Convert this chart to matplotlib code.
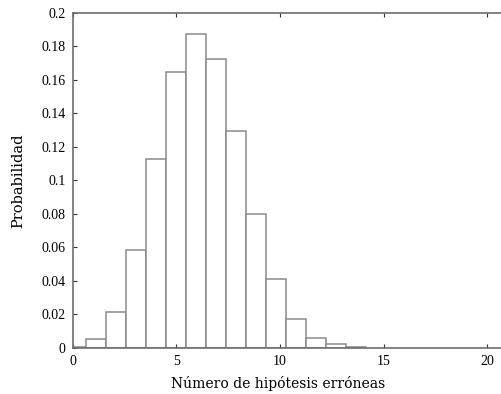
import numpy as np
import matplotlib.pyplot as plt

# histogram: left bin edges and heights
bin_left = [-0.32, 0.64, 1.61, 2.57, 3.54, 4.50, 5.47, 6.43, 7.40, 8.36,
            9.33, 10.29, 11.26, 12.22, 13.19]
prob = [0.0008, 0.0052, 0.0212, 0.0585, 0.1127, 0.1645, 0.1873, 0.1723,
        0.1296, 0.0800, 0.0410, 0.0173, 0.0060, 0.0022, 0.0006]
bin_width = 0.965

xticks = [0, 5, 10, 15, 20]
yticks = [0, 0.02, 0.04, 0.06, 0.08, 0.1, 0.12, 0.14, 0.16, 0.18, 0.2]
ytick_labels = ['0', '0.02', '0.04', '0.06', '0.08', '0.1', '0.12', '0.14',
                '0.16', '0.18', '0.2']

plt.rcParams['font.family'] = ['Liberation Serif', 'DejaVu Serif']

fig = plt.figure(figsize=(5.01, 3.94), dpi=100)
ax = fig.add_axes([0.1451, 0.1168, 0.869, 0.851])

ax.bar(bin_left, prob, width=bin_width, align='edge', color='white',
       edgecolor='#8a8a8a', linewidth=1.1, clip_on=True)

ax.set_xlim(0, 21)
ax.set_ylim(0, 0.2)
ax.set_xticks(xticks)
ax.set_yticks(yticks)
ax.set_yticklabels(ytick_labels)

for s in ax.spines.values():
    s.set_color('#6e6e6e')
    s.set_linewidth(1.2)
ax.tick_params(direction='in', length=3, width=0.8, color='#333333',
               labelsize=10, top=True, right=True, pad=5)

ax.set_xlabel('Número de hipótesis erróneas', fontsize=10,
              family='DejaVu Serif', labelpad=6)
ax.xaxis.set_label_coords(0.473, -0.085)
ax.set_ylabel('Probabilidad', fontsize=10.5, family='DejaVu Serif',
              labelpad=12)

fig.savefig('out.png', dpi=100)
